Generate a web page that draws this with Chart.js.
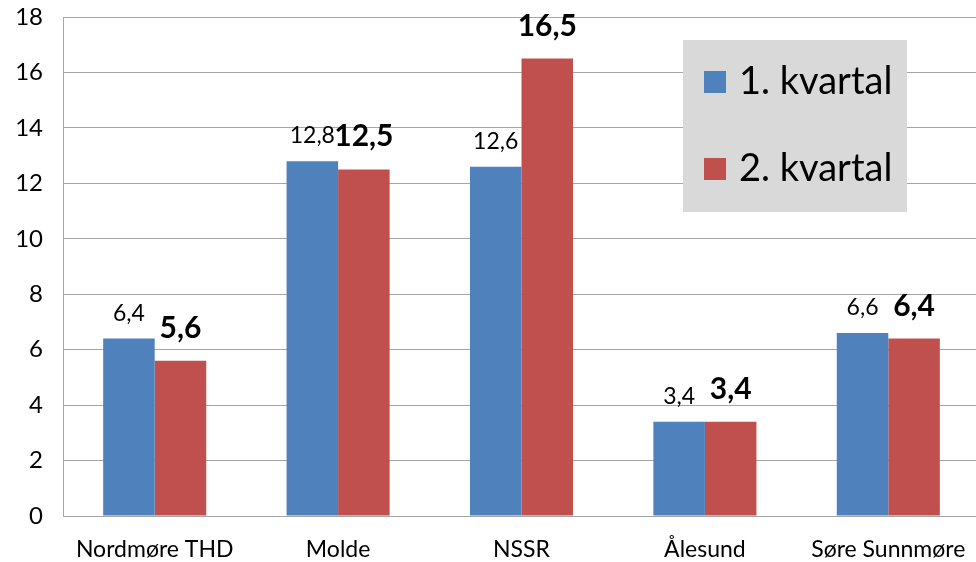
<!DOCTYPE html>
<html>
<head>
<meta charset="utf-8">
<script src="https://cdn.jsdelivr.net/npm/chart.js@4"></script>
<style>
  html, body { margin: 0; padding: 0; background: #fff; overflow: hidden; }
  #wrap { width: 976px; height: 562px; overflow: hidden; }
</style>
</head>
<body>
<div id="wrap"><canvas id="chart" width="984" height="562"></canvas></div>
<script>
/* data */
const categories = ['Nordmøre THD', 'Molde', 'NSSR', 'Ålesund', 'Søre Sunnmøre'];
const kvartal1 = [6.4, 12.8, 12.6, 3.4, 6.6];
const kvartal2 = [5.6, 12.5, 16.5, 3.4, 6.4];
const seriesNames = ['1. kvartal', '2. kvartal'];
const yTicks = [0, 2, 4, 6, 8, 10, 12, 14, 16, 18];

const FONT = 'Lato, "Liberation Sans", sans-serif';
const BLUE = '#4f81bd';
const RED = '#c0504d';
const GRID = '#a6a6a6';

// value labels over the bars (comma decimals, second series bold)
const valueLabels = {
  id: 'valueLabels',
  afterDatasetsDraw(chart) {
    const ctx = chart.ctx;
    ctx.save();
    ctx.textAlign = 'center';
    ctx.textBaseline = 'alphabetic';
    ctx.fillStyle = '#000';
    chart.data.datasets.forEach((ds, di) => {
      const meta = chart.getDatasetMeta(di);
      ctx.font = di === 0 ? '23px ' + FONT : 'bold 30px ' + FONT;
      const gap = di === 0 ? 18 : 23;
      meta.data.forEach((bar, i) => {
        const txt = ds.data[i].toFixed(1).replace('.', ',');
        ctx.fillText(txt, bar.x, bar.y - gap);
      });
    });
    ctx.restore();
  }
};

// grey legend box inside the plot area
const boxLegend = {
  id: 'boxLegend',
  afterDraw(chart) {
    const ctx = chart.ctx;
    const a = chart.chartArea;
    const x = a.right - 297, y = a.top + 23, w = 224, h = 172;
    ctx.save();
    ctx.fillStyle = '#d9d9d9';
    ctx.fillRect(x, y, w, h);
    ctx.font = '38px ' + FONT;
    ctx.textBaseline = 'middle';
    ctx.textAlign = 'left';
    chart.data.datasets.forEach((ds, i) => {
      const cy = y + 42 + i * 87;
      ctx.fillStyle = ds.backgroundColor;
      ctx.fillRect(x + 21, cy - 11, 22, 22);
      ctx.fillStyle = '#000';
      ctx.fillText(ds.label, x + 56, cy);
    });
    ctx.restore();
  }
};

const ctx = document.getElementById('chart').getContext('2d');
new Chart(ctx, {
  type: 'bar',
  data: {
    labels: categories,
    datasets: [
      { label: seriesNames[0], data: kvartal1, backgroundColor: BLUE },
      { label: seriesNames[1], data: kvartal2, backgroundColor: RED }
    ]
  },
  options: {
    responsive: false,
    animation: false,
    layout: { padding: { top: 17, right: 4, left: 0, bottom: 0 } },
    datasets: { bar: { categoryPercentage: 0.562, barPercentage: 1 } },
    scales: {
      x: {
        grid: { display: false, drawTicks: false },
        border: { display: true, color: GRID, width: 1 },
        ticks: { color: '#000', font: { family: FONT, size: 23 }, padding: 20 },
        afterFit: s => { s.height = 46; s.paddingLeft = 0; s.paddingRight = 0; }
      },
      y: {
        min: 0,
        max: 18,
        afterBuildTicks: s => { s.ticks = yTicks.map(v => ({ value: v })); },
        grid: { color: GRID, lineWidth: 1, drawTicks: false },
        border: { display: true, color: GRID, width: 1 },
        ticks: { color: '#000', font: { family: FONT, size: 24 }, padding: 20 },
        afterFit: s => { s.width = 63; s.paddingTop = 0; s.paddingBottom = 0; }
      }
    },
    plugins: {
      legend: { display: false },
      tooltip: { enabled: false }
    }
  },
  plugins: [valueLabels, boxLegend]
});
</script>
</body>
</html>
